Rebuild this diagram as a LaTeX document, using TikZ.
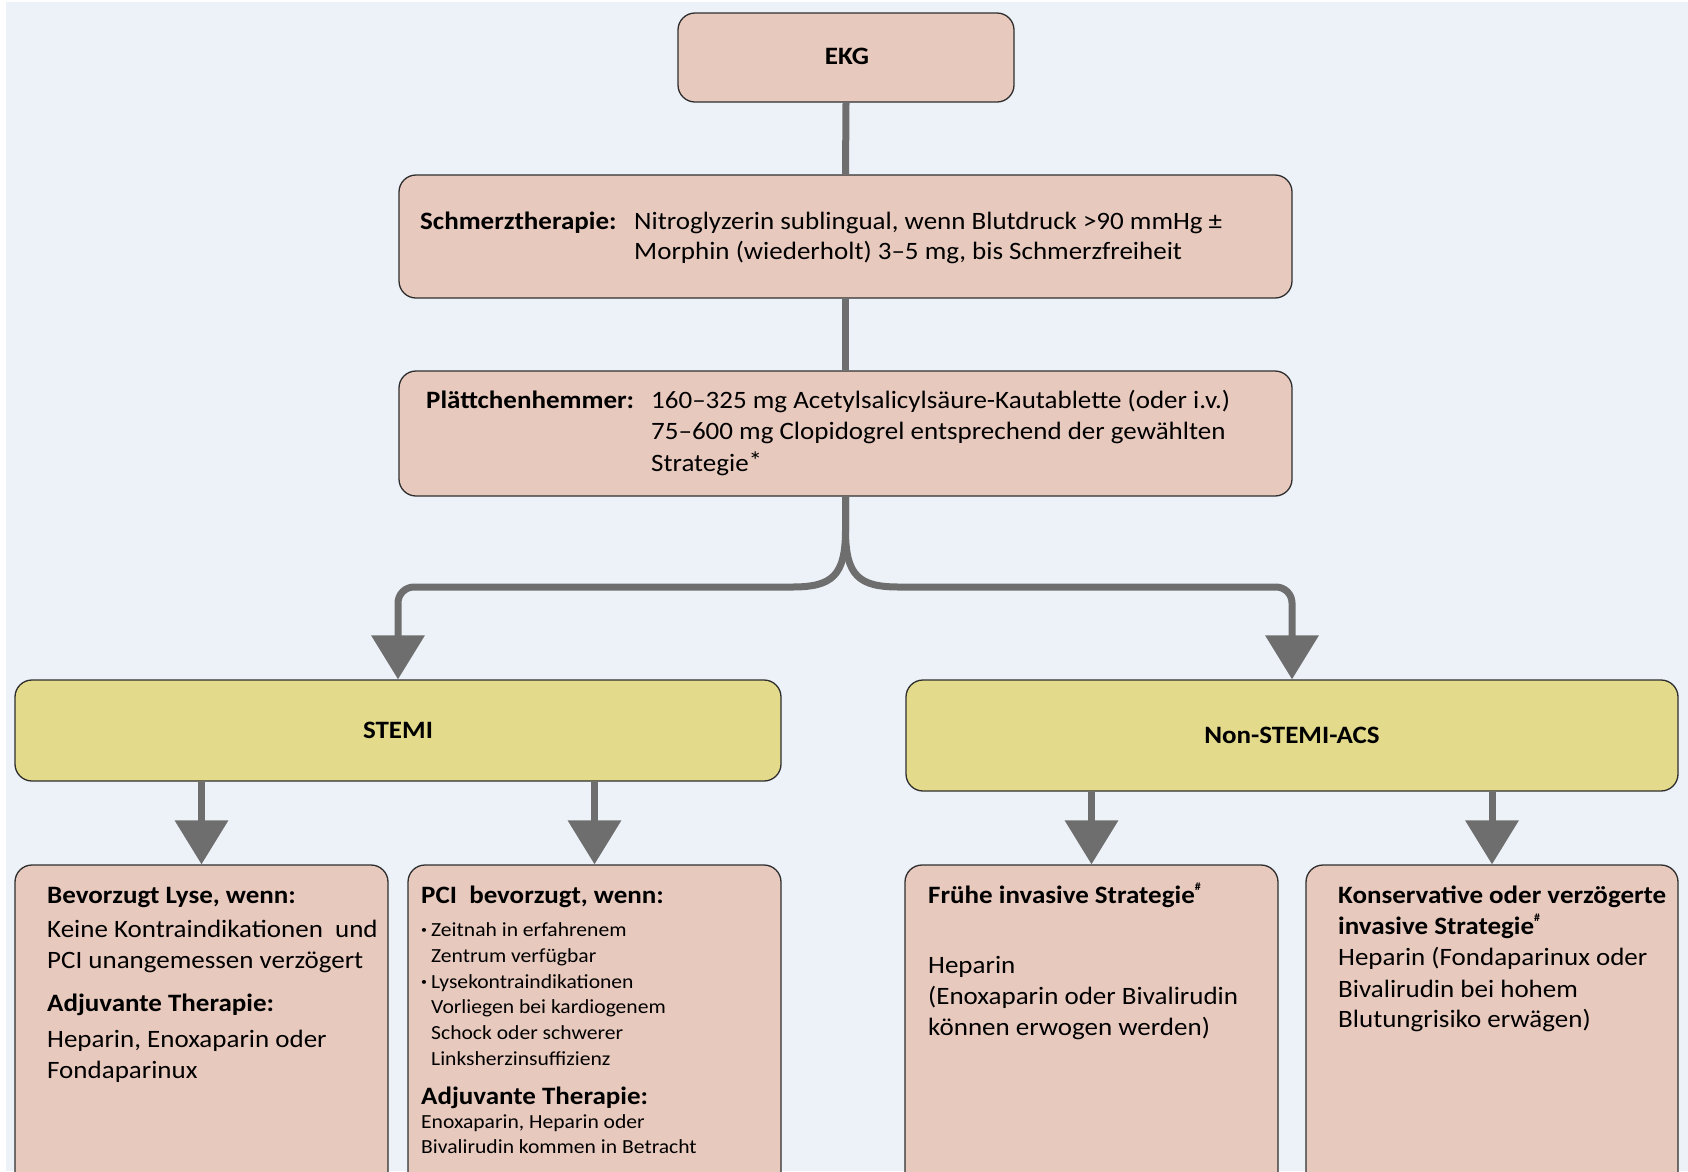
\documentclass[tikz,border=0pt]{standalone}
\usepackage{fontspec}
\setmainfont{Carlito}[FakeStretch=1.08]
\usetikzlibrary{arrows.meta}
\definecolor{bgc}{HTML}{EDF2F9}
\definecolor{pinkc}{HTML}{E8C9BE}
\definecolor{yelc}{HTML}{E3DA8B}
\definecolor{connc}{HTML}{6E6E6E}
\definecolor{edgec}{HTML}{2E2E2E}
\tikzset{
  boxbase/.style={draw=edgec, line width=1.3pt, rounded corners=17pt, inner sep=0pt},
  pinkbox/.style={boxbase, fill=pinkc},
  yelbox/.style={boxbase, fill=yelc},
  conn/.style={draw=connc, line width=7pt},
  arr/.style={-{Triangle[width=52pt,length=44pt]}},
  big/.style={anchor=base west, inner sep=0pt, font=\fontsize{25}{30}\selectfont},
  bigb/.style={big, font=\fontsize{25}{30}\selectfont\bfseries},
  small/.style={anchor=base west, inner sep=0pt, font=\fontsize{20}{24}\selectfont},
}
\newcommand{\hsup}{\raisebox{1.05ex}{\fontsize{11}{11}\selectfont\#}}
\newcommand{\smbul}{\makebox[10pt][l]{\raisebox{0.25ex}{\fontsize{11}{11}\selectfont\textbullet}}}
\begin{document}
\begin{tikzpicture}[x=1pt,y=-1pt]
\useasboundingbox (0,0) rectangle (1688,1171);
\clip (0,0) rectangle (1688,1171);
\fill[white] (0,0) rectangle (1688,1171);
\fill[bgc] (6,2) rectangle (1688,1171);

% boxes
\node[pinkbox, minimum width=336pt, minimum height=89pt] (ekg) at (846,57.5) {};
\node[pinkbox, minimum width=893pt, minimum height=123pt] (schmerz) at (845.5,236.5) {};
\node[pinkbox, minimum width=893pt, minimum height=125pt] (plaett) at (845.5,433.5) {};
\node[yelbox, minimum width=766pt, minimum height=101pt] (stemi) at (398,730.5) {};
\node[yelbox, minimum width=772pt, minimum height=111pt] (nstemi) at (1292,735.5) {};
\node[pinkbox, minimum width=373pt, minimum height=325pt] (b1) at (201.5,1027.5) {};
\node[pinkbox, minimum width=373pt, minimum height=325pt] (b2) at (594.5,1027.5) {};
\node[pinkbox, minimum width=373pt, minimum height=325pt] (b3) at (1091.5,1027.5) {};
\node[pinkbox, minimum width=372pt, minimum height=325pt] (b4) at (1492,1027.5) {};

% connectors
\coordinate (bry) at (0,587);
\draw[conn] (ekg.south) -- (schmerz.north);
\draw[conn] (schmerz.south) -- (plaett.north);
\draw[conn,arr] (plaett.south) -- (845.5,530) .. controls (845.5,576) and (832,587) .. (792,587)
   [rounded corners=16pt] -- (stemi.north |- bry) -- (stemi.north);
\draw[conn,arr] (plaett.south) -- (845.5,530) .. controls (845.5,576) and (859,587) .. (899,587)
   [rounded corners=16pt] -- (nstemi.north |- bry) -- (nstemi.north);
\draw[conn,arr] (stemi.south -| b1.north) -- (b1.north);
\draw[conn,arr] (stemi.south -| b2.north) -- (b2.north);
\draw[conn,arr] (nstemi.south -| b3.north) -- (b3.north);
\draw[conn,arr] (nstemi.south -| b4.north) -- (b4.north);

% texts
\node[bigb, anchor=base] (tekg) at (847,64) {EKG};
\node[bigb] (ts1) at (420,229) {Schmerztherapie:};
\node[big] (ts2) at (634,229) {Nitroglyzerin sublingual, wenn Blutdruck >90 mmHg ±};
\node[big] (ts3) at (634,259) {Morphin (wiederholt) 3–5 mg, bis Schmerzfreiheit};
\node[bigb] (tp1) at (426,408) {Plättchenhemmer:};
\node[big] (tp2) at (651,408) {160–325 mg Acetylsalicylsäure-Kautablette (oder i.v.)};
\node[big] (tp3) at (651,439) {75–600 mg Clopidogrel entsprechend der gewählten};
\node[big] (tp4) at (651,471) {Strategie\raisebox{0.1ex}{*}};
\node[bigb, anchor=base] (tstemi) at (398,738) {STEMI};
\node[bigb, anchor=base] (tnstemi) at (1292,743) {Non-STEMI-ACS};

\node[bigb] (a1) at (47,903) {Bevorzugt Lyse, wenn:};
\node[big] (a2) at (47,937) {Keine Kontraindikationen\ \ und};
\node[big] (a3) at (47,968) {PCI unangemessen verzögert};
\node[bigb] (a4) at (47,1011) {Adjuvante Therapie:};
\node[big] (a5) at (47,1047) {Heparin, Enoxaparin oder};
\node[big] (a6) at (47,1078) {Fondaparinux};

\node[bigb] (c1) at (421,903) {PCI\ \ bevorzugt, wenn:};
\node[small] (c2) at (421,936) {\smbul Zeitnah in erfahrenem};
\node[small] (c3) at (431,962) {Zentrum verfügbar};
\node[small] (c4) at (421,988) {\smbul Lysekontraindikationen};
\node[small] (c5) at (431,1013) {Vorliegen bei kardiogenem};
\node[small] (c6) at (431,1039) {Schock oder schwerer};
\node[small] (c7) at (431,1065) {Linksherzinsuffizienz};
\node[bigb] (c8) at (421,1104) {Adjuvante Therapie:};
\node[small] (c9) at (421,1128) {Enoxaparin, Heparin oder};
\node[small] (c10) at (421,1153) {Bivalirudin kommen in Betracht};

\node[bigb] (d1) at (928,903) {Frühe invasive Strategie\hsup};
\node[big] (d2) at (928,973) {Heparin};
\node[big] (d3) at (928,1004) {(Enoxaparin oder Bivalirudin};
\node[big] (d4) at (928,1035) {können erwogen werden)};

\node[bigb] (e1) at (1338,903) {Konservative oder verzögerte};
\node[bigb] (e2) at (1338,934) {invasive Strategie\hsup};
\node[big] (e3) at (1338,965) {Heparin (Fondaparinux oder};
\node[big] (e4) at (1338,997) {Bivalirudin bei hohem};
\node[big] (e5) at (1338,1027) {Blutungrisiko erwägen)};
\end{tikzpicture}
\end{document}
